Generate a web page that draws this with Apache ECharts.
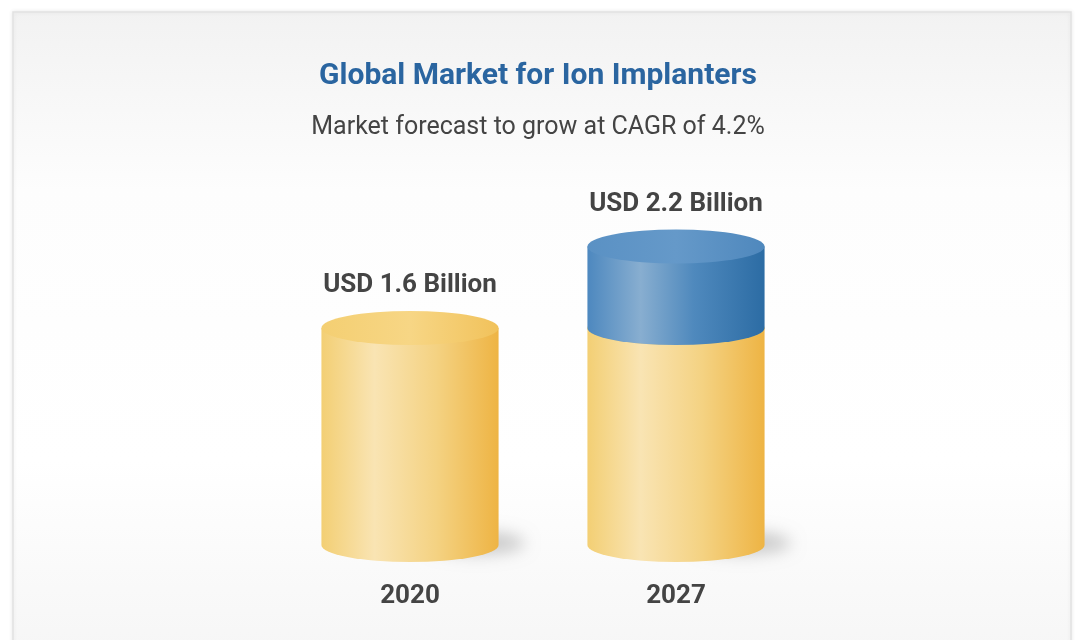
<!DOCTYPE html>
<html><head><meta charset="utf-8">
<script src="https://cdn.jsdelivr.net/npm/echarts@6/dist/echarts.min.js"></script>
<style>html,body{margin:0;padding:0;background:#fff}#c{width:1076px;height:640px}</style>
</head><body><div id="c"></div>
<script>
const years = ['2020', '2027'];
const baseValues = [1.6, 1.6];     // 2020 market size (yellow)
const totalValues = [1.6, 2.2];    // market size per year
const valueLabels = ['USD 1.6 Billion', 'USD 2.2 Billion'];
const titleText = 'Global Market for Ion Implanters';
const subtitleText = 'Market forecast to grow at CAGR of 4.2%';

const yellowData = years.map((y, i) => [i, 0, baseValues[i]]);
const blueData = years.map((y, i) => [i, baseValues[i], totalValues[i]]).filter(d => d[2] > d[1]);

const palettes = {
  yellow: {
    body: [[0,'#f3cf74'],[0.3,'#f9e4b3'],[0.65,'#f4d282'],[1,'#eeb444']],
    top: [[0,'#f4cf72'],[0.5,'#f7d685'],[1,'#f1c25b']]
  },
  blue: {
    body: [[0,'#4d88bf'],[0.3,'#88aed0'],[0.6,'#4f89bd'],[1,'#2c6ca4']],
    top: [[0,'#5a91c4'],[0.5,'#6599c9'],[1,'#4f88bd']]
  }
};

function grad(stops) {
  return new echarts.graphic.LinearGradient(0, 0, 1, 0, stops.map(s => ({offset: s[0], color: s[1]})));
}

function makeRender(key, withShadow) {
  return function (params, api) {
    const idx = api.value(0);
    const lo = api.value(1), hi = api.value(2);
    const xC = api.coord([idx, 0])[0];
    const y0 = api.coord([idx, lo])[1];
    const y1 = api.coord([idx, hi])[1];
    const half = api.size([1, 0])[0] * 0.333;
    const ry = 17;
    const xl = xC - half, xr = xC + half;
    const pal = palettes[key];
    const children = [];
    if (withShadow) {
      const off = 3000;
      const sx = xr - 22 - off, sy = y0 - 2, rx = 48, sry = 11;
      children.push({
        type: 'path',
        shape: {pathData: `M ${sx-rx} ${sy} A ${rx} ${sry} 0 1 0 ${sx+rx} ${sy} A ${rx} ${sry} 0 1 0 ${sx-rx} ${sy} Z`},
        style: {fill: '#000', shadowBlur: 16, shadowColor: 'rgba(0,0,0,0.2)', shadowOffsetX: off}
      });
    }
    children.push({
      type: 'path',
      shape: {pathData: `M ${xl} ${y1} L ${xl} ${y0} A ${half} ${ry} 0 0 0 ${xr} ${y0} L ${xr} ${y1} Z`},
      style: {fill: grad(pal.body)}
    });
    children.push({
      type: 'path',
      shape: {pathData: `M ${xl} ${y1} A ${half} ${ry} 0 1 0 ${xr} ${y1} A ${half} ${ry} 0 1 0 ${xl} ${y1} Z`},
      style: {fill: grad(pal.top)}
    });
    if (Math.abs(hi - totalValues[idx]) < 1e-9) {
      children.push({
        type: 'text',
        style: {
          text: valueLabels[idx], x: xC, y: y1 - 42,
          align: 'center', verticalAlign: 'middle',
          fontFamily: 'Roboto', fontWeight: 'bold', fontSize: 26, fill: '#444'
        }
      });
    }
    return {type: 'group', children};
  };
}

const chart = echarts.init(document.getElementById('c'));
chart.setOption({
  animation: false,
  backgroundColor: '#ffffff',
  graphic: [{
    type: 'rect', z: -10, silent: true,
    shape: {x: 13, y: 12, width: 1058, height: 640},
    style: {
      fill: new echarts.graphic.LinearGradient(0, 0, 0, 1, [
        {offset: 0, color: '#f2f2f2'}, {offset: 0.28, color: '#fdfdfd'},
        {offset: 0.7, color: '#ffffff'}, {offset: 1, color: '#f6f6f6'}]),
      stroke: '#e2e2e2', lineWidth: 1.5,
      shadowBlur: 4, shadowColor: 'rgba(0,0,0,0.08)'
    }
  }],
  title: [{
    text: titleText, left: 'center', top: 56,
    textStyle: {fontFamily: 'Roboto', fontWeight: 'bold', fontSize: 30, color: '#2a65a0'}
  }, {
    text: subtitleText, left: 'center', top: 110,
    textStyle: {fontFamily: 'Roboto', fontWeight: 'normal', fontSize: 25, color: '#444'}
  }],
  grid: {left: 277, right: 267, top: 138, bottom: 95},
  xAxis: {
    type: 'category', data: years,
    axisLine: {show: false}, axisTick: {show: false}, splitLine: {show: false},
    axisLabel: {margin: 38, fontFamily: 'Roboto', fontWeight: 'bold', fontSize: 26, color: '#444'}
  },
  yAxis: {type: 'value', min: 0, max: 3, show: false, splitLine: {show: false}},
  series: [
    {type: 'custom', renderItem: makeRender('yellow', true), data: yellowData, encode: {x: 0, y: [1, 2]}, z: 2},
    {type: 'custom', renderItem: makeRender('blue', false), data: blueData, encode: {x: 0, y: [1, 2]}, z: 3}
  ]
});
</script></body></html>
